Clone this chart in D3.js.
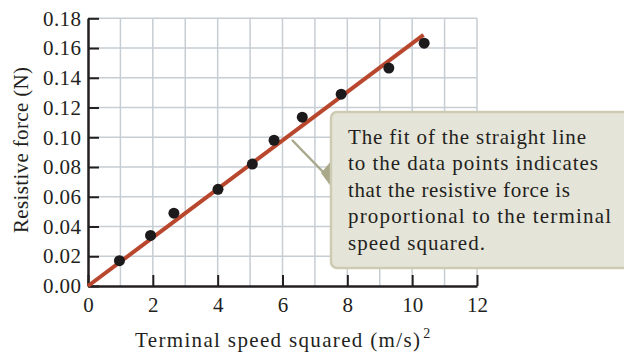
<!DOCTYPE html>
<html>
<head>
    <meta charset='utf-8'>
    <title>Resistive force vs terminal speed squared</title>
    <script src='https://cdn.jsdelivr.net/npm/d3@7'></script>
    <style>
        body { margin: 0; background: #fff; }
        text { font-family: 'Liberation Serif', 'DejaVu Serif', serif; fill: #231f20; }
    </style>
</head>
<body>
    <svg width='624' height='354'></svg>
    <script>
        // data
        const speedSq = [0.97, 1.93, 2.65, 4.01, 5.07, 5.74, 6.61, 7.81, 9.28, 10.37]
        const force = [0.017, 0.034, 0.049, 0.065, 0.082, 0.098, 0.1135, 0.129, 0.1465, 0.1633]
        const fitEnd = [0, 10.35]
        const fitSlope = 0.01631
        const xTicks = [0, 2, 4, 6, 8, 10, 12]
        const yTicks = [0, 0.02, 0.04, 0.06, 0.08, 0.10, 0.12, 0.14, 0.16, 0.18]
        const note = ['The fit of the straight line', 'to the data points indicates',
            'that the resistive force is', 'proportional to the terminal', 'speed squared.']

        const svg = d3.select('svg')
        const x = d3.scaleLinear().domain([0, 12]).range([88, 477])
        const y = d3.scaleLinear().domain([0, 0.18]).range([286, 18.3])
        const fs = 21

        // grid
        const grid = svg.append('g').attr('stroke', '#c6cdd3').attr('stroke-width', 1.5)
        grid.selectAll('.gx').data(d3.range(1, 13)).enter().append('line')
            .attr('x1', d => x(d)).attr('x2', d => x(d)).attr('y1', y(0)).attr('y2', y(0.18))
        grid.selectAll('.gy').data(yTicks.slice(1)).enter().append('line')
            .attr('y1', d => y(d)).attr('y2', d => y(d)).attr('x1', x(0)).attr('x2', x(12))

        // axes
        const yAxis = svg.append('g').attr('transform', `translate(${x(0)},0)`)
            .call(d3.axisLeft(y).tickValues(yTicks).tickSize(-11).tickSizeOuter(0).tickPadding(7).tickFormat(d3.format('.2f')))
        const xAxis = svg.append('g').attr('transform', `translate(0,${y(0)})`)
            .call(d3.axisBottom(x).tickValues(xTicks).tickSize(-11).tickSizeOuter(0).tickPadding(11))
        for (const ax of [xAxis, yAxis]) {
            ax.attr('font-size', fs).attr('font-family', 'Liberation Serif')
            ax.select('.domain').attr('stroke', '#231f20').attr('stroke-width', 2.5)
            ax.selectAll('.tick line').attr('stroke', '#231f20').attr('stroke-width', 2)
            ax.selectAll('.tick text').attr('fill', '#231f20')
        }
        yAxis.selectAll('.tick text').attr('textLength', 38).attr('lengthAdjust', 'spacing')

        // fit line
        svg.append('line')
            .attr('x1', x(fitEnd[0])).attr('y1', y(fitEnd[0] * fitSlope))
            .attr('x2', x(fitEnd[1])).attr('y2', y(fitEnd[1] * fitSlope))
            .attr('stroke', '#b8472d').attr('stroke-width', 4)

        // points
        svg.selectAll('circle').data(speedSq).enter().append('circle')
            .attr('cx', d => x(d)).attr('cy', (d, i) => y(force[i])).attr('r', 5.5)
            .attr('fill', '#1d1a1b')

        // axis titles
        svg.append('text').attr('transform', 'translate(28,150) rotate(-90)')
            .attr('text-anchor', 'middle').attr('font-size', fs)
            .attr('textLength', 166).attr('lengthAdjust', 'spacing').text('Resistive force (N)')
        const xt = svg.append('text').attr('x', 135).attr('y', 347).attr('font-size', fs)
        xt.append('tspan').attr('textLength', 285).attr('lengthAdjust', 'spacing').text('Terminal speed squared (m/s)')
        xt.append('tspan').attr('dx', 2).attr('dy', -9).attr('font-size', 14).text('2')

        // callout
        svg.append('line').attr('x1', 292).attr('y1', 140).attr('x2', 326).attr('y2', 175)
            .attr('stroke', '#a9a88b').attr('stroke-width', 2.5)
        svg.append('polygon').attr('points', '321,173 332,160 332,188').attr('fill', '#a9a88b')
        svg.append('rect').attr('x', 331).attr('y', 112).attr('width', 310).attr('height', 156).attr('rx', 6)
            .attr('fill', '#e5e4d8').attr('stroke', '#cdcbb4').attr('stroke-width', 2.5)
        const noteWidths = [238, 250, 222, 263, 137]
        svg.append('g').selectAll('text').data(note).enter().append('text')
            .attr('x', 348).attr('y', (d, i) => 143.5 + i * 26.5).attr('font-size', fs)
            .attr('textLength', (d, i) => noteWidths[i]).attr('lengthAdjust', 'spacing')
            .text(d => d)
    </script>
</body>
</html>
